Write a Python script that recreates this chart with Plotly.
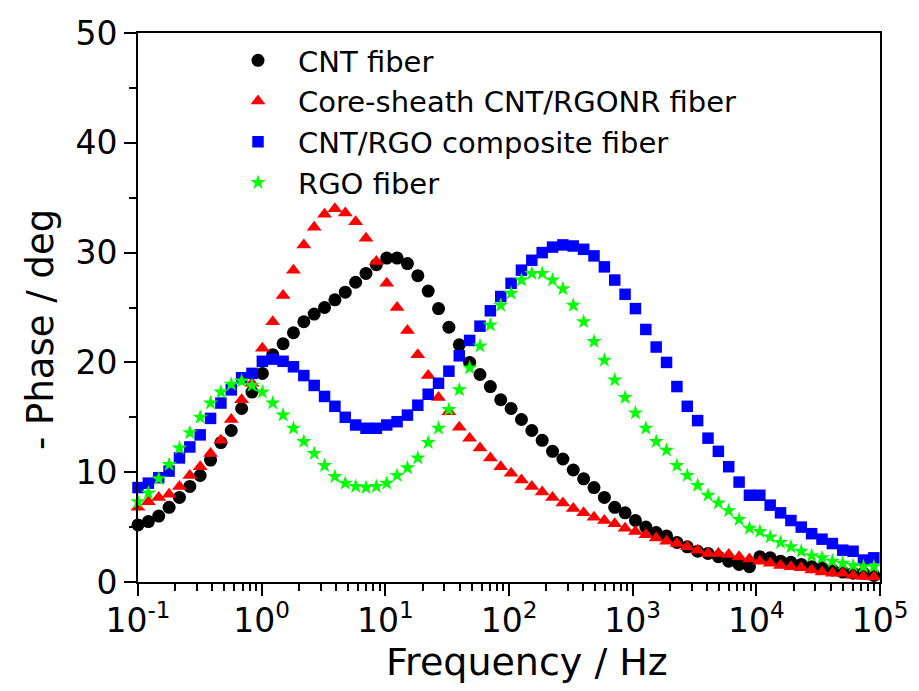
import numpy as np
import plotly.graph_objects as go

# Frequencies (Hz), log-spaced sampling from 0.1 Hz up to ~90 kHz
freq = np.logspace(-1, 4.95, 72)

cnt_fiber = [5.2, 5.5, 6.0, 6.8, 7.7, 8.7, 9.7, 11.1, 12.7, 13.8, 15.8, 17.3, 19.0, 20.7, 21.7,
             22.7, 23.7, 24.4, 25.0, 25.7, 26.4, 27.3, 28.1, 28.9, 29.5, 29.5, 29.0, 27.9, 26.5, 24.9,
             23.2, 21.6, 20.0, 18.9, 17.8, 16.6, 15.8, 14.8, 13.8, 12.9, 11.9, 11.2, 10.2, 9.4, 8.6,
             7.7, 6.8, 6.3, 5.6, 5.0, 4.5, 4.2, 3.6, 3.2, 2.8, 2.6, 2.3, 1.9, 1.6, 1.4, 2.3, 2.2,
             1.9, 1.8, 1.6, 1.4, 1.3, 1.1, 0.9, 0.8, 0.8, 0.6]

core_sheath = [6.8, 7.3, 7.7, 8.0, 8.7, 9.7, 10.5, 11.7, 12.9, 14.8, 16.6, 18.1, 21.3, 23.7, 26.1,
               28.4, 30.7, 32.3, 33.5, 34.0, 33.6, 32.8, 31.3, 29.2, 27.2, 25.0, 22.9, 20.7, 18.8, 16.8,
               15.5, 14.1, 13.1, 12.2, 11.3, 10.5, 9.9, 9.3, 8.7, 8.2, 7.7, 7.2, 6.7, 6.3, 5.9,
               5.6, 5.3, 4.9, 4.6, 4.3, 4.0, 3.7, 3.5, 3.2, 2.9, 2.6, 2.6, 2.5, 2.3, 2.1, 1.9, 1.7,
               1.5, 1.4, 1.3, 1.1, 0.9, 0.8, 0.8, 0.6, 0.5, 0.45]

cnt_rgo = [8.6, 9.0, 9.5, 10.1, 11.3, 12.3, 13.4, 14.9, 16.3, 17.5, 18.6, 19.0, 20.1, 20.3, 20.1,
           19.6, 18.8, 17.9, 16.9, 16.0, 15.0, 14.3, 14.0, 14.0, 14.3, 14.6, 15.2, 16.1, 17.1, 18.1,
           19.2, 20.6, 22.0, 23.3, 24.7, 26.0, 27.2, 28.4, 29.3, 30.0, 30.5, 30.7, 30.6, 30.3, 29.7,
           28.7, 27.5, 26.2, 24.9, 23.0, 21.4, 20.0, 17.8, 16.0, 14.7, 13.1, 11.9, 10.5, 9.1, 7.9,
           7.9, 7.0, 6.3, 5.6, 5.0, 4.4, 3.9, 3.5, 2.9, 2.8, 2.0, 2.2]

rgo_fiber = [7.3, 8.1, 9.4, 10.7, 12.2, 13.6, 15.0, 16.3, 17.3, 18.0, 18.3, 17.9, 17.3, 16.3, 15.2,
             14.0, 12.8, 11.7, 10.6, 9.6, 9.0, 8.7, 8.6, 8.7, 9.0, 9.7, 10.4, 11.3, 12.7, 14.0,
             15.7, 17.5, 19.5, 21.5, 23.4, 25.2, 26.3, 27.5, 28.1, 28.1, 27.5, 26.7, 25.2, 23.7, 21.9,
             20.2, 18.4, 16.8, 15.4, 14.0, 12.8, 12.0, 10.6, 9.7, 8.8, 7.9, 7.2, 6.5, 5.7, 4.9,
             4.6, 4.1, 3.6, 3.2, 2.8, 2.4, 2.2, 1.9, 1.7, 1.5, 1.4, 1.4]

names = ["CNT fiber", "Core-sheath CNT/RGONR fiber", "CNT/RGO composite fiber", "RGO fiber"]
series = [cnt_fiber, core_sheath, cnt_rgo, rgo_fiber]
colors = ["#000000", "#FF0000", "#0000FF", "#00FF00"]
symbols = ["circle", "triangle-up", "square", "star"]
sizes = [13, 13, 11.5, 11.5]

x_tick_exps = [-1, 0, 1, 2, 3, 4, 5]
x_tick_text = ["10<sup>%d</sup>" % e if e >= 0 else "10<sup>-%d</sup>" % (-e) for e in x_tick_exps]

FONT = "DejaVu Sans, Verdana, sans-serif"

fig = go.Figure()
for nm, ys, c, s, sz in zip(names, series, colors, symbols, sizes):
    fig.add_trace(go.Scatter(
        x=freq, y=ys, mode="markers", name=nm,
        marker=dict(color=c, symbol=s, size=sz, line=dict(width=0)),
        cliponaxis=False,
    ))

minor_vals = [m * 10.0 ** e for e in range(-1, 5) for m in range(2, 10)]

fig.update_layout(
    width=919, height=691,
    margin=dict(l=138, r=39, t=33, b=109),
    paper_bgcolor="white", plot_bgcolor="white",
    font=dict(family=FONT, color="black"),
    showlegend=True,
    legend=dict(
        x=(218 - 138) / 742, y=(582 - 35) / 549, xanchor="left", yanchor="top",
        bgcolor="rgba(0,0,0,0)", borderwidth=0,
        font=dict(size=29, family=FONT, color="black"),
        itemsizing="trace", itemwidth=70,
        tracegroupgap=0,
    ),
    xaxis=dict(
        type="log", range=[-1, 5],
        tickmode="array", tickvals=[10.0 ** e for e in x_tick_exps], ticktext=x_tick_text,
        ticks="outside", ticklen=12, tickwidth=2, tickcolor="black",
        ticklabelstandoff=-4,
        showline=True, linewidth=2, linecolor="black", mirror=True,
        showgrid=False, zeroline=False,
        tickfont=dict(size=33, family=FONT),
        minor=dict(ticks="outside", ticklen=7, tickwidth=1.5, tickcolor="black",
                   tickmode="array", tickvals=minor_vals, showgrid=False),
    ),
    yaxis=dict(
        range=[0, 50], tickmode="linear", tick0=0, dtick=10,
        ticks="outside", ticklen=12, tickwidth=2, tickcolor="black",
        showline=True, linewidth=2, linecolor="black", mirror=True,
        showgrid=False, zeroline=False,
        tickfont=dict(size=33, family=FONT),
        minor=dict(ticks="outside", ticklen=7, tickwidth=1.5, tickcolor="black",
                   dtick=5, showgrid=False),
    ),
    annotations=[
        dict(text="Frequency / Hz", xref="paper", yref="paper",
             x=(527 - 138) / 742, y=(582 - 662) / 549, xanchor="center", yanchor="middle",
             showarrow=False, font=dict(size=38, family=FONT, color="black")),
        dict(text="- Phase / deg", xref="paper", yref="paper", textangle=-90,
             x=(41 - 138) / 742, y=(582 - 330) / 549, xanchor="center", yanchor="middle",
             showarrow=False, font=dict(size=37, family=FONT, color="black")),
    ],
)

fig.write_html("out.html")
